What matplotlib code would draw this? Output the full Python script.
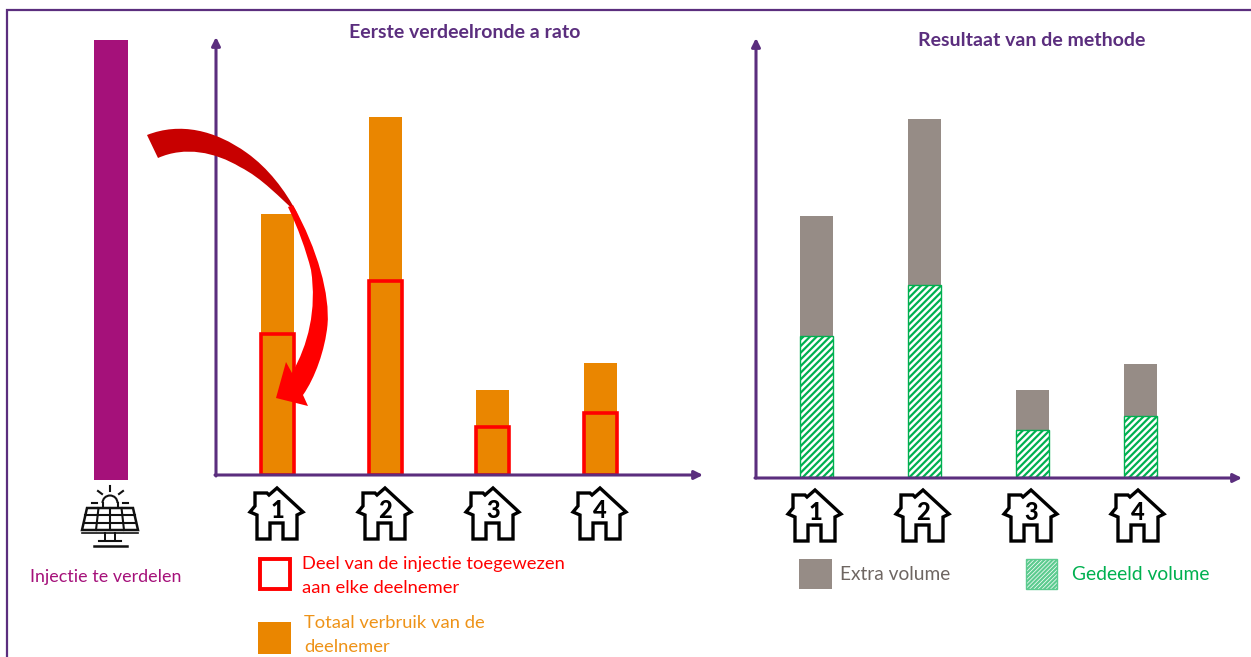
import matplotlib
matplotlib.use("Agg")
import matplotlib.pyplot as plt
from matplotlib.patches import PathPatch, Polygon, Rectangle, Arc
from matplotlib.path import Path

plt.rcParams["font.family"] = ["Lato", "DejaVu Sans"]
plt.rcParams["hatch.linewidth"] = 1.6

W, H = 1251, 657
PURPLE = "#5B2E7E"
MAGENTA = "#A5117A"
ORANGE = "#EA8600"
RED = "#FF0000"
DARKRED = "#C80000"
GREY = "#968C86"
GREEN = "#00B050"

# values (height in image pixels, no scale in the source)
deelnemers = ["1", "2", "3", "4"]
injectie = 440
verbruik_links = [261, 358, 85, 112]
toegewezen_links = [141, 194, 48, 62]
verbruik_rechts = [261, 358, 87, 113]
gedeeld_rechts = [141, 192, 47, 61]

HOUSE = [(28, 0), (54, 24), (48, 27), (48, 51), (34, 51), (34, 35), (21, 35), (21, 51),
         (8, 51), (8, 27), (1, 24), (6, 18), (6, 5), (18, 5), (20, 7)]


def chart_axes(fig, x0, x1, base, c0, step):
    # axes whose data y unit is one image pixel, category spacing = step
    ax = fig.add_axes([x0 / W, 1 - base / H, (x1 - x0) / W, (base - 30) / H])
    ax.set_xlim((x0 - c0) / step, (x1 - c0) / step)
    ax.set_ylim(0, base - 30)
    ax.axis("off")
    return ax


def draw_house(ax, x, y, label):
    pts = [(x + px, y + py) for px, py in HOUSE]
    ax.add_patch(Polygon(pts, closed=True, fc="white", ec="black", lw=2.4, joinstyle="miter", zorder=5))
    ax.text(x + 28, y + 23, label, fontsize=17, fontweight="black", ha="center", va="center", color="black", zorder=6)


def draw_solar(ax, cx):
    c = "#111111"
    ax.add_patch(Arc((cx, 503), 15, 15, theta1=180, theta2=360, ec=c, lw=1.5))
    ax.plot([cx - 7.5, cx - 7.5], [503, 508], color=c, lw=1.5)
    ax.plot([cx + 7.5, cx + 7.5], [503, 508], color=c, lw=1.5)
    for x0, y0, x1, y1 in [(0, 486, 0, 491), (-12, 491, -8, 494), (13, 491, 9, 494), (-18, 503, -13, 503), (13, 503, 18, 503)]:
        ax.plot([cx + x0, cx + x1], [y0, y1], color=c, lw=1.5)
    ax.add_patch(Polygon([(cx - 23, 508), (cx + 23, 508), (cx + 28, 530), (cx - 28, 530)], closed=True,
                         fc="white", ec=c, lw=1.8, zorder=3))
    for t in [0.33, 0.66]:
        ax.plot([cx - 23 - 5 * t, cx + 23 + 5 * t], [508 + 22 * t, 508 + 22 * t], color=c, lw=1.5, zorder=4)
    for s in [-0.5, 0, 0.5]:
        ax.plot([cx + 23 * s, cx + 28 * s], [508, 530], color=c, lw=1.5, zorder=4)
    ax.plot([cx - 5, cx - 5], [533, 541], color=c, lw=1.4)
    ax.plot([cx + 5, cx + 5], [533, 541], color=c, lw=1.4)
    ax.plot([cx - 28, cx + 28], [533, 533], color=c, lw=1.2)
    ax.plot([cx - 11, cx + 11], [541, 541], color=c, lw=1.5)
    ax.plot([cx - 16, cx + 17], [546, 546], color=c, lw=1.8)


fig = plt.figure(figsize=(W / 100, H / 100), dpi=100)

# left chart
ax1 = chart_axes(fig, 216, 700, 475, 277.5, 107.7)
xs = list(range(len(deelnemers)))
ax1.bar(xs, verbruik_links, width=33 / 107.7, color=ORANGE)
ax1.bar(xs, toegewezen_links, width=33 / 107.7, fc="none", ec=RED, lw=2.6)

# right chart
ax2 = chart_axes(fig, 756, 1240, 477, 816.5, 108)
rest = [t - g for t, g in zip(verbruik_rechts, gedeeld_rechts)]
ax2.bar(xs, rest, width=33 / 108, bottom=gedeeld_rechts, color=GREY)
ax2.bar(xs, gedeeld_rechts, width=33 / 108, fc="white", ec=GREEN, hatch="/////", lw=1)

# overlay in image pixels for the drawn annotations
ov = fig.add_axes([0, 0, 1, 1])
ov.set_xlim(0, W)
ov.set_ylim(H, 0)
ov.axis("off")
ov.patch.set_alpha(0)

ov.plot([7, 7, 1251], [657, 9.5, 9.5], color=PURPLE, lw=1.6, solid_joinstyle="miter")

for x0, y0, x1, y1 in [(216, 476, 216, 37), (215, 475, 703, 475), (756, 478, 756, 38), (755, 478, 1242, 478)]:
    ov.annotate("", xy=(x1, y1), xytext=(x0, y0),
                arrowprops=dict(arrowstyle="-|>,head_width=0.25,head_length=0.5", color=PURPLE, lw=2.2,
                                shrinkA=0, shrinkB=0))

ov.bar([111], [-injectie], width=34, bottom=480, color=MAGENTA)

# curved arrow
M, C4, L = Path.MOVETO, Path.CURVE4, Path.LINETO
donker = [(147, 135), (180, 122), (215, 130), (247, 153), (268, 168), (285, 190), (297, 213),
          (280, 198), (262, 178), (240, 167), (215, 152), (185, 146), (158, 158), (147, 135)]
ov.add_patch(PathPatch(Path(donker, [M, C4, C4, C4, C4, C4, C4, C4, C4, C4, C4, C4, C4, L]),
                       fc=DARKRED, ec="none", zorder=8))
licht = [(293, 205), (318, 250), (330, 295), (327.5, 325), (325, 350), (315, 378), (303, 395),
         (308, 406), (276, 398), (286, 362), (292, 373),
         (308, 345), (317, 310), (311, 270), (306, 250), (298, 228), (288, 207), (293, 205)]
ov.add_patch(PathPatch(Path(licht, [M, C4, C4, C4, C4, C4, C4, L, L, L, L, C4, C4, C4, C4, C4, C4, L]),
                       fc=RED, ec="none", zorder=8))

for x, lab in zip([249, 357, 465, 572], deelnemers):
    draw_house(ov, x, 488, lab)
for x, lab in zip([787, 895, 1003, 1110], deelnemers):
    draw_house(ov, x, 490, lab)

draw_solar(ov, 110)

# titles
ov.text(464.5, 32, "Eerste verdeelronde a rato", color=PURPLE, fontsize=14, fontweight="bold", ha="center", va="center")
ov.text(1032, 41, "Resultaat van de methode", color=PURPLE, fontsize=14, fontweight="bold", ha="center", va="center")
ov.text(106, 577, "Injectie te verdelen", color=MAGENTA, fontsize=12.9, ha="center", va="center")

# legends
ov.add_patch(Rectangle((259.5, 559), 30, 30, fc="white", ec=RED, lw=2.8))
ov.text(302, 564, "Deel van de injectie toegewezen", color=RED, fontsize=13.2, va="center")
ov.text(302, 588, "aan elke deelnemer", color=RED, fontsize=13.2, va="center")
ov.add_patch(Rectangle((258, 622), 33, 32, fc=ORANGE, ec="none"))
ov.text(304, 623, "Totaal verbruik van de", color="#EE9318", fontsize=13.2, va="center")
ov.text(304, 647, "deelnemer", color="#EE9318", fontsize=13.2, va="center")

ov.add_patch(Rectangle((799, 559), 33, 30, fc=GREY, ec="none"))
ov.text(840, 574, "Extra volume", color="#6E6662", fontsize=13.8, va="center")
ov.add_patch(Rectangle((1026, 559), 31, 30, fc="white", ec="#5CCB8F", hatch="////////", lw=1))
ov.text(1072, 575, "Gedeeld volume", color=GREEN, fontsize=13.9, va="center")

fig.savefig("out.png", dpi=100)
